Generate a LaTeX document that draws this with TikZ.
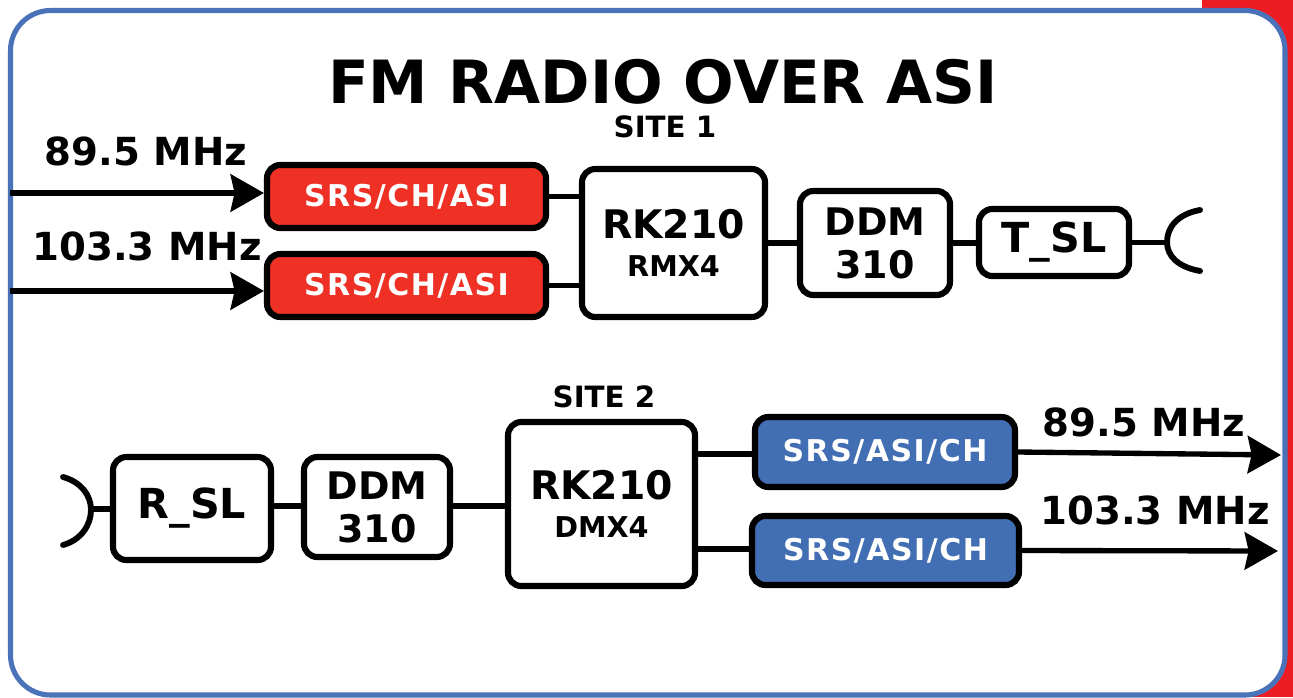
\documentclass[tikz,border=0pt]{standalone}
\usepackage{fontspec}
\setmainfont{DejaVu Sans}
\usetikzlibrary{arrows.meta}
\definecolor{frameblue}{RGB}{74,114,184}
\definecolor{boxred}{RGB}{238,49,36}
\definecolor{boxblue}{RGB}{66,110,180}
\definecolor{sidered}{RGB}{237,28,36}
\newfontfamily\spaced[LetterSpace=5]{DejaVu Sans}
\newcommand{\fsz}[1]{\fontsize{#1}{#1}\selectfont\bfseries}
\newcommand{\fsp}[1]{\spaced\fontsize{#1}{#1}\selectfont\bfseries}
\tikzset{
  x=0.75pt,y=-0.75pt,
  block/.style={draw=black,line width=4.6pt,rounded corners=10pt,fill=white,inner sep=0pt,align=center,text=black},
  redblock/.style={block,fill=boxred,text=white,font=\fsp{22.5}},
  blueblock/.style={block,fill=boxblue,text=white,font=\fsp{22.5}},
  wire/.style={line width=4pt,black},
  flow/.style={line width=4pt,black,-{Stealth[length=25pt,width=28pt,inset=3pt]}},
  dish/.style={line width=4.4pt,black,line cap=round},
  lab/.style={inner sep=0pt,text=black,font=\fsz{29}},
  site/.style={inner sep=0pt,text=black,font=\fsz{22}}
}
\newcommand{\boxnode}[7]{\node[#1,minimum width=#4*0.75pt-3pt,minimum height=#5*0.75pt-3pt] (#2) at (#6,#7) {#3};}
\begin{document}
\begin{tikzpicture}
\useasboundingbox (0,0) rectangle (1293,697);
\fill[sidered] (1202,0) rectangle (1293,697);
\path[draw=frameblue,fill=white,line width=3.8pt,rounded corners=30pt] (10.5,10.5) rectangle (1285,695);

\node[inner sep=0pt,text=black,font=\fsz{44.7}] (title) at (663,82) {FM RADIO OVER ASI};
\node[site] (s1) at (665,127) {SITE 1};
\node[site] (s2) at (604,397) {SITE 2};

\node[lab] (f1) at (146,151) {89.5 MHz};
\node[lab] (f2) at (147,246) {103.3 MHz};
\node[lab] (f3) at (1144,422) {89.5 MHz};
\node[lab] (f4) at (1155,510) {103.3 MHz};

\boxnode{redblock}{sa}{SRS/CH/ASI}{283}{67}{406.5}{196.5}
\boxnode{redblock}{sb}{SRS/CH/ASI}{283}{67}{406.5}{285.5}
\boxnode{block}{rkt}{{\fsz{29.5}RK210}\\[11pt]{\fsz{21.5}RMX4}}{187}{152}{673.5}{243}
\boxnode{block}{ddt}{{\fsz{28.5}DDM}\\[10pt]{\fsz{28.5}310}}{154}{108}{875}{243}
\boxnode{block}{tsl}{\fsz{31}T\_SL}{154}{71}{1054}{242.5}

\boxnode{block}{rsl}{\fsz{31}R\_SL}{162}{107}{192}{508.5}
\boxnode{block}{ddb}{{\fsz{28.5}DDM}\\[10pt]{\fsz{28.5}310}}{150}{104}{377}{507}
\boxnode{block}{rkb}{{\fsz{29.5}RK210}\\[11pt]{\fsz{21.5}DMX4}}{191}{168}{601.5}{504}
\boxnode{blueblock}{ua}{SRS/ASI/CH}{264}{74}{885}{452}
\boxnode{blueblock}{ub}{SRS/ASI/CH}{271}{73}{885.5}{550.5}

\coordinate (ina) at (10,193);
\coordinate (inb) at (10,291);
\coordinate (outa) at (1281,455);
\coordinate (outb) at (1278,551);
\coordinate (dt) at (1168,242);
\coordinate (dr) at (91,509);
\coordinate (wl) at (300,506);
\coordinate (ra) at (700,454);
\coordinate (rb) at (700,549);

\draw[flow] (ina) -- (ina -| sa.west);
\draw[flow] (inb) -- (inb -| sb.west);
\draw[flow] (ua.east) -- (outa);
\draw[flow] (ub.east) -- (outb);
\draw[wire] (sa.east) -- (sa.east -| rkt.west);
\draw[wire] (sb.east) -- (sb.east -| rkt.west);
\draw[wire] (rkt.east) -- (ddt.west);
\draw[wire] (ddt.east) -- (ddt.east -| tsl.west);
\draw[wire] (tsl.east) -- (tsl.east -| dt);
\draw[wire] (wl -| rsl.east) -- (wl -| ddb.west);
\draw[wire] (wl -| ddb.east) -- (wl -| rkb.west);
\draw[wire] (ra -| rkb.east) -- (ra -| ua.west);
\draw[wire] (rb -| rkb.east) -- (rb -| ub.west);
\draw[wire] (dr) -- (dr -| rsl.west);
\draw[dish] (1200,210) .. controls (1178,214) and (1167,227) .. (1167,242) .. controls (1167,256) and (1178,267) .. (1200,271);
\draw[dish] (63,477) .. controls (81,482) and (91,495) .. (91,510) .. controls (91,525) and (81,540) .. (63,545);
\end{tikzpicture}
\end{document}
